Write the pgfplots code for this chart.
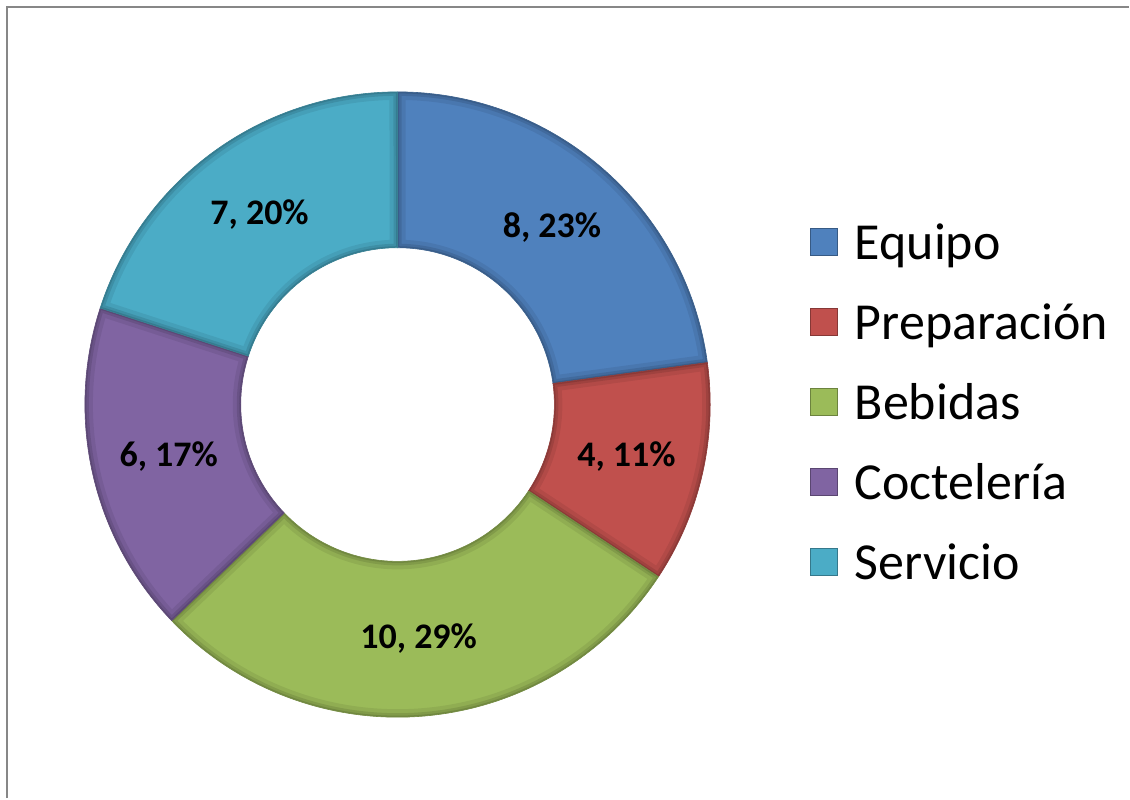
\documentclass[border=0pt]{standalone}
\usepackage{pgfplots}
\pgfplotsset{compat=1.18}
\usepackage{fontspec}
\setmainfont{Carlito}
\usetikzlibrary{calc}
\definecolor{cEq}{HTML}{4F81BD}
\definecolor{cPr}{HTML}{C0504D}
\definecolor{cBe}{HTML}{9BBB59}
\definecolor{cCo}{HTML}{8064A2}
\definecolor{cSe}{HTML}{4BACC6}
% data
\def\vA{8}\def\vB{4}\def\vC{10}\def\vD{6}\def\vE{7}
\pgfmathsetmacro{\tot}{\vA+\vB+\vC+\vD+\vE}
\pgfmathsetmacro{\aA}{90}
\pgfmathsetmacro{\aB}{\aA-\vA/\tot*360}
\pgfmathsetmacro{\aC}{\aB-\vB/\tot*360}
\pgfmathsetmacro{\aD}{\aC-\vC/\tot*360}
\pgfmathsetmacro{\aE}{\aD-\vD/\tot*360}
\pgfmathsetmacro{\aF}{\aE-\vE/\tot*360}
\def\Ro{313}\def\Ri{157}\def\Rm{235}
\newcommand{\wedgepath}[2]{(axis cs:398,394) ++(#1:\Ro pt) arc[start angle=#1, end angle=#2, radius=\Ro pt]
    -- ($(axis cs:398,394)+(#2:\Ri pt)$) arc[start angle=#2, end angle=#1, radius=\Ri pt] -- cycle}
\newcommand{\donutwedge}[3]{% color, start, end
  \fill[#1] \wedgepath{#2}{#3};
  \begin{scope}
  \clip \wedgepath{#2}{#3};
  \draw[black, opacity=0.07, line width=16pt] \wedgepath{#2}{#3};
  \draw[black, opacity=0.10, line width=8pt] \wedgepath{#2}{#3};
  \draw[black, opacity=0.12, line width=3pt] \wedgepath{#2}{#3};
  \end{scope}
  \draw[#1!75!black, line width=0.6pt] \wedgepath{#2}{#3};}
\begin{document}
\begin{tikzpicture}
\begin{axis}[width=1130pt, height=799pt, scale only axis,
  xmin=0, xmax=1130, ymin=0, ymax=799, axis lines=none, clip=false,
  legend style={at={(axis cs:811,577)}, anchor=north west, draw=none, fill=none,
    font=\fontsize{52}{60}\selectfont, row sep=38.5pt, inner sep=0pt,
    /tikz/every odd column/.append style={column sep=15pt}},
  legend cell align=left,
  legend image code/.code={\fill[#1] (0pt,-13pt) rectangle (27pt,14pt);
     \draw[#1, line width=0.6pt] (0pt,-13pt) rectangle (27pt,14pt);}]
\path (axis cs:0,0) (axis cs:1130,799);
\donutwedge{cEq}{\aA}{\aB}
\donutwedge{cPr}{\aB}{\aC}
\donutwedge{cBe}{\aC}{\aD}
\donutwedge{cCo}{\aD}{\aE}
\donutwedge{cSe}{\aE}{\aF}
\addlegendimage{fill=cEq, draw=cEq!70!black}
\addlegendimage{fill=cPr, draw=cPr!70!black}
\addlegendimage{fill=cBe, draw=cBe!70!black}
\addlegendimage{fill=cCo, draw=cCo!70!black}
\addlegendimage{fill=cSe, draw=cSe!70!black}
\legend{Equipo,Preparación,Bebidas,Coctelería,Servicio}
\pgfmathsetmacro{\mA}{(\aA+\aB)/2}
\pgfmathsetmacro{\mB}{(\aB+\aC)/2}
\pgfmathsetmacro{\mC}{(\aC+\aD)/2}
\pgfmathsetmacro{\mD}{(\aD+\aE)/2}
\pgfmathsetmacro{\mE}{(\aE+\aF)/2}
\node[font=\fontsize{36}{42}\selectfont\bfseries] at ($(axis cs:398,394)+(\mA:\Rm pt)$) {8, 23\%};
\node[font=\fontsize{36}{42}\selectfont\bfseries] at ($(axis cs:398,394)+(\mB:\Rm pt)$) {4, 11\%};
\node[font=\fontsize{36}{42}\selectfont\bfseries] at ($(axis cs:398,394)+(\mC:\Rm pt)$) {10, 29\%};
\node[font=\fontsize{36}{42}\selectfont\bfseries] at ($(axis cs:398,394)+(\mD:\Rm pt)$) {6, 17\%};
\node[font=\fontsize{36}{42}\selectfont\bfseries] at ($(axis cs:398,394)+(\mE:\Rm pt)$) {7, 20\%};
\draw[black!47, line width=2.5pt] (axis cs:7,0) -- (axis cs:7,792) -- (axis cs:1130,792);
\end{axis}
\end{tikzpicture}
\end{document}
